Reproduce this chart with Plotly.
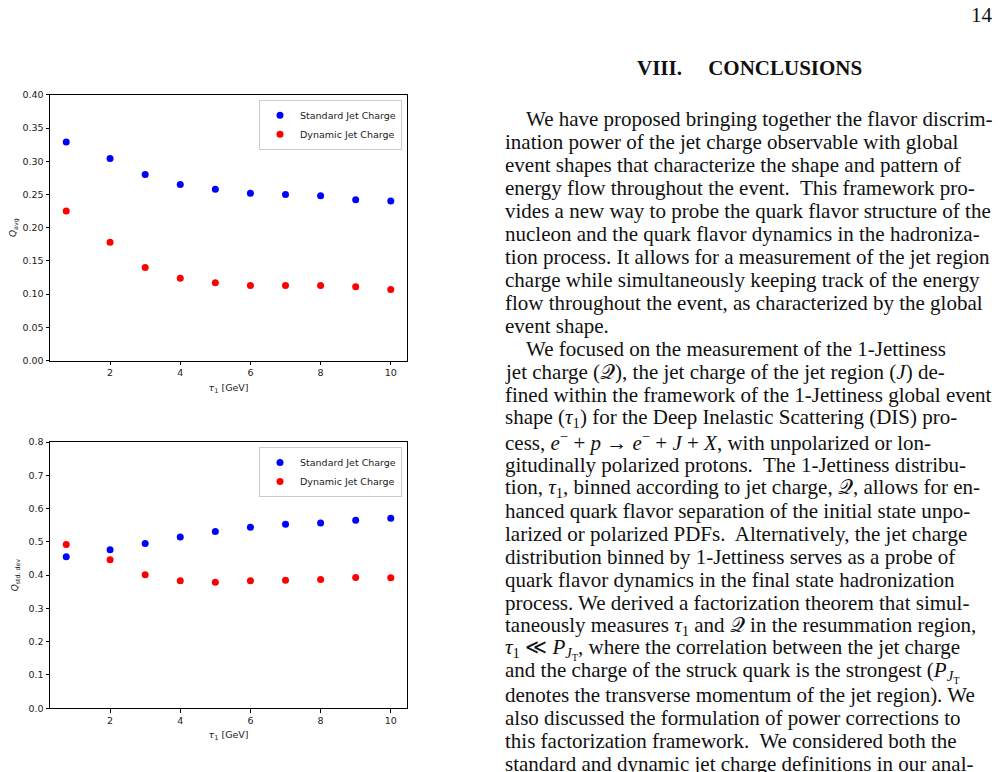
import plotly.graph_objects as go

W, H = 1001, 772
# where the page puts the figure: measured offsets of the rendered page
OFF_X, OFF_Y, SCALE_Y = 8, 13.2, 0.985

# Data
tau1 = [0.75, 2, 3, 4, 5, 6, 7, 8, 9, 10]
q_avg_standard = [0.329, 0.304, 0.280, 0.265, 0.258, 0.252, 0.250, 0.248, 0.242, 0.240]
q_avg_dynamic = [0.225, 0.178, 0.140, 0.124, 0.117, 0.113, 0.113, 0.113, 0.111, 0.107]
q_std_standard = [0.455, 0.476, 0.495, 0.515, 0.531, 0.544, 0.553, 0.557, 0.565, 0.571]
q_std_dynamic = [0.492, 0.446, 0.401, 0.383, 0.379, 0.383, 0.385, 0.387, 0.393, 0.392]

avg_ticks = [0.0, 0.05, 0.10, 0.15, 0.20, 0.25, 0.30, 0.35, 0.40]
std_ticks = [0.0, 0.1, 0.2, 0.3, 0.4, 0.5, 0.6, 0.7, 0.8]
x_ticks = [2, 4, 6, 8, 10]

page_number = "14"
section_title = "VIII.\u00a0\u00a0\u00a0\u00a0\u00a0CONCLUSIONS"
Qc = "𝒬"
par1 = [
    "We have proposed bringing together the flavor discrim-",
    "ination power of the jet charge observable with global",
    "event shapes that characterize the shape and pattern of",
    "energy flow throughout the event.  This framework pro-",
    "vides a new way to probe the quark flavor structure of the",
    "nucleon and the quark flavor dynamics in the hadroniza-",
    "tion process. It allows for a measurement of the jet region",
    "charge while simultaneously keeping track of the energy",
    "flow throughout the event, as characterized by the global",
    "event shape.",
]
par2 = [
    "We focused on the measurement of the 1-Jettiness",
    f"jet charge ({Qc}), the jet charge of the jet region (<i>J</i>) de-",
    "fined within the framework of the 1-Jettiness global event",
    "shape (<i>τ</i><sub>1</sub>) for the Deep Inelastic Scattering (DIS) pro-",
    "cess, <i>e</i><sup>−</sup> + <i>p</i> → <i>e</i><sup>−</sup> + <i>J</i> + <i>X</i>, with unpolarized or lon-",
    "gitudinally polarized protons.  The 1-Jettiness distribu-",
    f"tion, <i>τ</i><sub>1</sub>, binned according to jet charge, {Qc}, allows for en-",
    "hanced quark flavor separation of the initial state unpo-",
    "larized or polarized PDFs.  Alternatively, the jet charge",
    "distribution binned by 1-Jettiness serves as a probe of",
    "quark flavor dynamics in the final state hadronization",
    "process. We derived a factorization theorem that simul-",
    f"taneously measures <i>τ</i><sub>1</sub> and {Qc} in the resummation region,",
    "<i>τ</i><sub>1</sub> ≪ <i>P</i><sub><i>J</i><sub>T</sub></sub>, where the correlation between the jet charge",
    "and the charge of the struck quark is the strongest (<i>P</i><sub><i>J</i><sub>T</sub></sub>",
    "denotes the transverse momentum of the jet region). We",
    "also discussed the formulation of power corrections to",
    "this factorization framework.  We considered both the",
    "standard and dynamic jet charge definitions in our anal-",
]

FW, FH = W - OFF_X, 764


def px_x(p):
    return (p - OFF_X) / FW


def px_y(p):
    return 1 - ((p - OFF_Y) / SCALE_Y) / FH


fig = go.Figure()

panels = [
    ("x", "y", "legend", q_avg_standard, q_avg_dynamic),
    ("x2", "y2", "legend2", q_std_standard, q_std_dynamic),
]
for xa, ya, lg, std_vals, dyn_vals in panels:
    fig.add_trace(go.Scatter(x=tau1, y=std_vals, mode="markers", name="Standard Jet Charge",
                             marker=dict(color="#0000ff", size=7), xaxis=xa, yaxis=ya, legend=lg))
    fig.add_trace(go.Scatter(x=tau1, y=dyn_vals, mode="markers", name="Dynamic Jet Charge",
                             marker=dict(color="#ff0000", size=7), xaxis=xa, yaxis=ya, legend=lg))

tick_font = dict(family="DejaVu Sans", size=9.5, color="#222222")
axis_common = dict(showline=True, linecolor="black", linewidth=1, mirror=True,
                   ticks="outside", ticklen=3.5, tickwidth=0.8, tickcolor="black",
                   showgrid=False, zeroline=False, tickfont=tick_font)
legend_common = dict(xanchor="right", yanchor="top", bgcolor="white",
                     bordercolor="#cccccc", borderwidth=1,
                     font=dict(family="DejaVu Sans", size=9.5, color="#222222"))
xtitle = dict(text="<i>τ</i><sub>1</sub> [GeV]", font=dict(family="DejaVu Sans", size=9.5, color="#222222"), standoff=6)

xdom = [px_x(50), px_x(407)]
fig.update_layout(
    width=FW, height=FH,
    margin=dict(l=0, r=0, t=0, b=0),
    paper_bgcolor="white", plot_bgcolor="white",
    showlegend=True,
    xaxis=dict(domain=xdom, anchor="y", range=[0.2875, 10.4625], tickvals=x_ticks,
               title=xtitle, **axis_common),
    yaxis=dict(domain=[px_y(359.5), px_y(94)], anchor="x", range=[0, 0.40], tickvals=avg_ticks,
               tickformat=".2f",
               title=dict(text="<i>Q</i><sub>avg</sub>", font=dict(family="DejaVu Sans", size=9, color="#222222"), standoff=8),
               **axis_common),
    xaxis2=dict(domain=xdom, anchor="y2", range=[0.2875, 10.4625], tickvals=x_ticks,
                title=xtitle, **axis_common),
    yaxis2=dict(domain=[px_y(707), px_y(441)], anchor="x2", range=[0, 0.8], tickvals=std_ticks,
                tickformat=".1f",
                title=dict(text="<i>Q</i><sub>std. dev</sub>", font=dict(family="DejaVu Sans", size=9, color="#222222"), standoff=8),
                **axis_common),
    legend=dict(x=px_x(402), y=px_y(99), **legend_common),
    legend2=dict(x=px_x(402), y=px_y(446), **legend_common),
)

serif = "Liberation Serif"
text_font = dict(family=serif, size=21, color="#111111")

fig.add_annotation(text=page_number, x=px_x(995), y=px_y(14), xref="paper", yref="paper",
                   xanchor="right", yanchor="middle", showarrow=False, font=text_font)
fig.add_annotation(text="<b>" + section_title + "</b>", x=px_x(749), y=px_y(67), xref="paper", yref="paper",
                   xanchor="center", yanchor="middle", showarrow=False,
                   font=dict(family=serif, size=21, color="#111111"))

line_gap = 23.01
for i, line in enumerate(par1 + par2):
    first = i == 0 or i == len(par1)
    x0 = 524 if first else 503
    y0 = 118.3 + line_gap * i
    fig.add_annotation(text=line, x=px_x(x0), y=px_y(y0), xref="paper", yref="paper",
                       xanchor="left", yanchor="middle", showarrow=False, font=text_font)

fig.write_html("out.html")
